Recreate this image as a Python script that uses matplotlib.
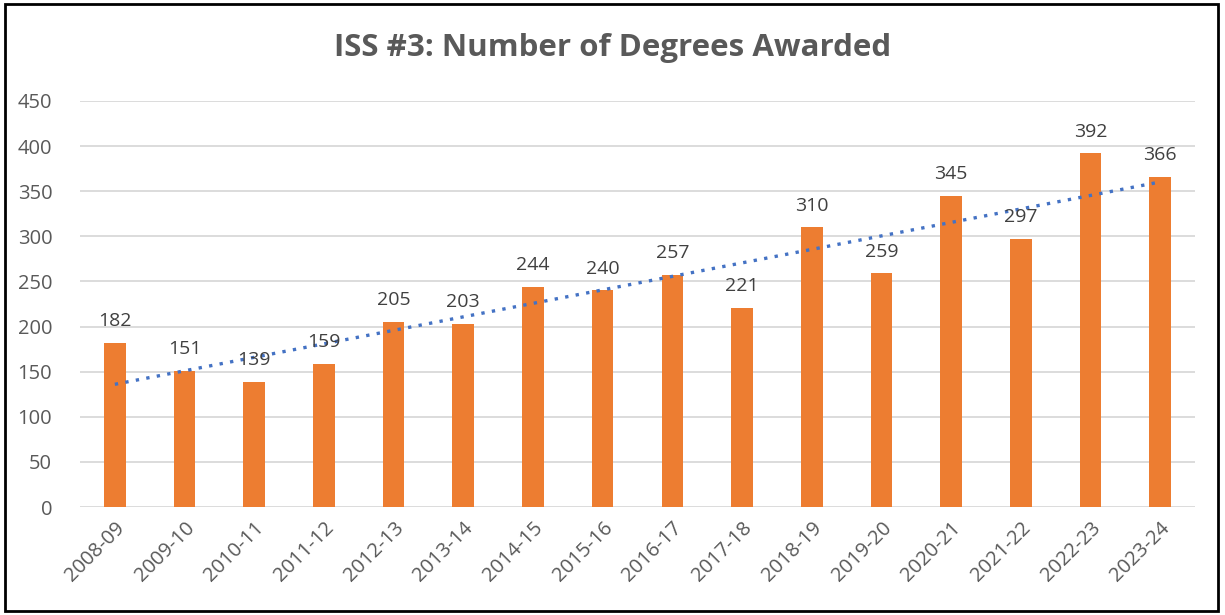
import numpy as np
import matplotlib
matplotlib.use("Agg")
import matplotlib.pyplot as plt
from matplotlib.patches import Rectangle

years = ["2008-09", "2009-10", "2010-11", "2011-12", "2012-13", "2013-14",
         "2014-15", "2015-16", "2016-17", "2017-18", "2018-19", "2019-20",
         "2020-21", "2021-22", "2022-23", "2023-24"]
degrees = [182, 151, 139, 159, 205, 203, 244, 240, 257, 221, 310, 259,
           345, 297, 392, 366]

plt.rcParams['font.family'] = ['Open Sans', 'DejaVu Sans']
gray = "#595959"

fig = plt.figure(figsize=(12.25, 6.15), dpi=100)
ax = fig.add_axes([0.0653, 0.1756, 0.9102, 0.6602])

x = np.arange(len(years))
ax.bar(x, degrees, width=0.31, color="#ED7D31", zorder=2)

# linear trendline, like Excel
coef = np.polyfit(x, degrees, 1)
ax.plot(x, np.polyval(coef, x), linestyle=(0, (1, 2.2)), color="#4472C4",
        linewidth=2.4, zorder=3)

for xi, v in zip(x, degrees):
    ax.text(xi, v + 14, str(v), ha="center", va="bottom", fontsize=14,
            color="#404040", zorder=4)

ax.set_xlim(-0.5, len(years) - 0.5)
ax.set_ylim(0, 450)
ax.set_yticks(np.arange(0, 451, 50))
ax.set_xticks(x)
ax.set_xticklabels(years, rotation=45, ha="right", rotation_mode="anchor")
ax.tick_params(axis="both", length=0, labelsize=14.5, colors=gray)
ax.tick_params(axis="y", pad=20)
ax.tick_params(axis="x", pad=8)
ax.grid(axis="y", color="#D9D9D9", linewidth=1.3, zorder=0)
for s in ax.spines.values():
    s.set_visible(False)

fig.text(0.5, 0.922, "ISS #3: Number of Degrees Awarded", ha="center",
         va="center", fontsize=22.5, fontweight="bold", color=gray)

fig.patches.append(Rectangle((0.004, 0.006), 0.99, 0.987, transform=fig.transFigure,
                             fill=False, edgecolor="black", linewidth=2))

fig.savefig("out.png", dpi=100)
